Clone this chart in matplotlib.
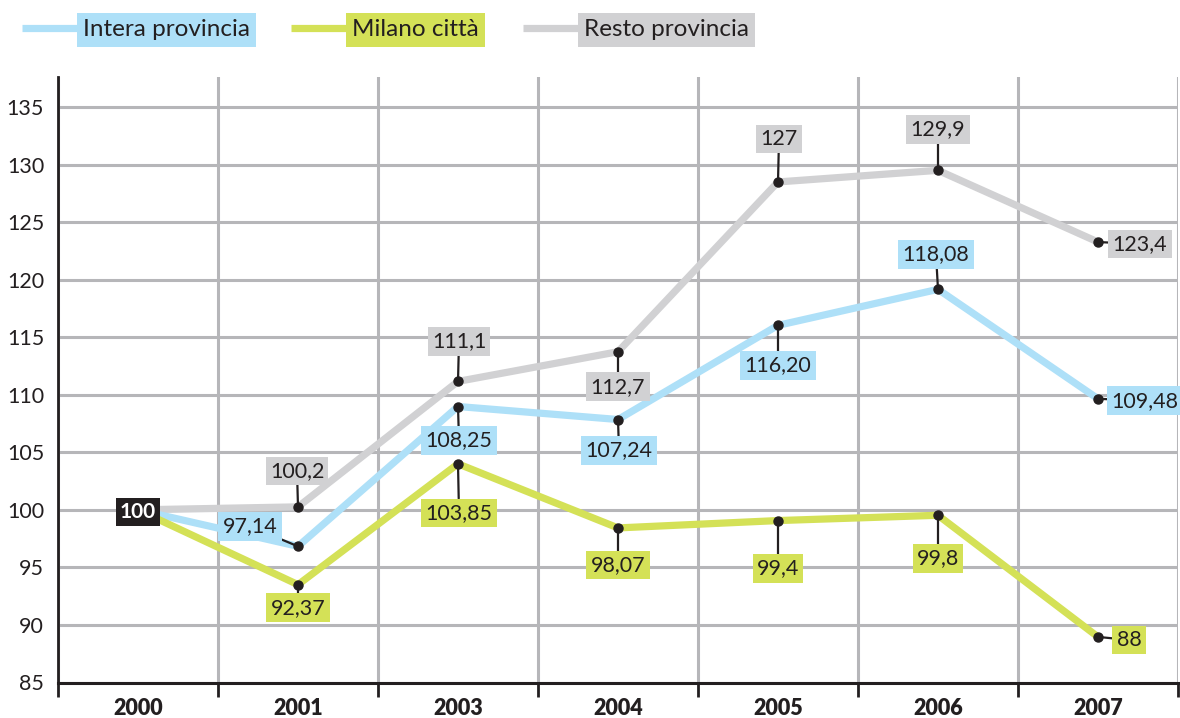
import matplotlib
matplotlib.use('Agg')
import matplotlib.pyplot as plt

# ---------------- data ----------------
years = ['2000', '2001', '2003', '2004', '2005', '2006', '2007']
intera = [100, 96.83, 108.98, 107.85, 116.03, 119.16, 109.65]
milano = [100, 93.5, 104.0, 98.43, 99.07, 99.53, 88.96]
resto = [100, 100.26, 111.16, 113.74, 128.49, 129.5, 123.27]
intera_labels = ['100', '97,14', '108,25', '107,24', '116,20', '118,08', '109,48']
milano_labels = ['100', '92,37', '103,85', '98,07', '99,4', '99,8', '88']
resto_labels = ['100', '100,2', '111,1', '112,7', '127', '129,9', '123,4']
yticks = [85, 90, 95, 100, 105, 110, 115, 120, 125, 130, 135]
series_names = ['Intera provincia', 'Milano città', 'Resto provincia']

# ---------------- style ----------------
BLUE = '#aee0f8'
GREEN = '#d4e157'
GRAY = '#d1d1d3'
DARK = '#231f20'
GRID = '#b6b6b9'
FONT = ['Lato', 'DejaVu Sans']
plt.rcParams['font.family'] = FONT

# label offsets in pixels (dx right, dy down) relative to the data point
intera_off = [None, (-48, -22), (1, 32), (1, 29), (0, 38), (-2, -37), (47, 0)]
milano_off = [None, (0, 21), (1, 47), (0, 35), (0, 46), (0, 41), (31, 1)]
resto_off = [None, (-1, -38), (1, -42), (0, 33), (1, -45), (0, -43), (42, 0)]

W, H = 1180, 718
fig = plt.figure(figsize=(W / 100, H / 100), dpi=100)
top_px, bot_px, left_px, right_px = 77, 682.5, 58, 1178
ax = fig.add_axes([left_px / W, (H - bot_px) / H, (right_px - left_px) / W, (bot_px - top_px) / H])
ax.set_xlim(-0.5, len(years) - 0.5)
ax.set_ylim(85, 135 + (107 - top_px) / 11.5)

x = list(range(len(years)))
ax.set_xticks(x)
ax.set_xticklabels(years, fontsize=15.5, fontweight='heavy', color=DARK)
ax.set_xticks([i - 0.5 for i in range(len(years) + 1)], minor=True)
ax.tick_params(axis='x', which='major', length=0, pad=11)
ax.tick_params(axis='x', which='minor', length=10, width=2, color=DARK, direction='out')
ax.set_yticks(yticks)
ax.set_yticklabels([str(v) for v in yticks], fontsize=15.5, color=DARK)
ax.tick_params(axis='y', length=0, pad=10)

ax.grid(True, axis='y', which='major', color=GRID, lw=2.2, zorder=0)
ax.grid(True, axis='x', which='minor', color=GRID, lw=2.2, zorder=0)
ax.set_axisbelow(True)
for s in ['top', 'right']:
    ax.spines[s].set_visible(False)
ax.spines['left'].set_color(DARK)
ax.spines['left'].set_linewidth(2)
ax.spines['bottom'].set_color(DARK)
ax.spines['bottom'].set_linewidth(2.2)
ax.spines['left'].set_zorder(1)

series = [(resto, resto_labels, resto_off, GRAY),
          (intera, intera_labels, intera_off, BLUE),
          (milano, milano_labels, milano_off, GREEN)]

for k, (vals, labs, offs, col) in enumerate(series):
    ax.plot(x, vals, color=col, lw=5.2, solid_joinstyle='miter', solid_capstyle='butt', zorder=2 + k * 0.1)

for vals, labs, offs, col in series:
    ax.plot(x[1:], vals[1:], 'o', color=DARK, ms=6.5, zorder=4)
    for i in range(1, len(x)):
        dx, dy = offs[i]
        ax.annotate(labs[i], xy=(x[i], vals[i]), xytext=(dx, -dy), textcoords='offset pixels',
                    ha='center', va='center_baseline', fontsize=15.5, color=DARK,
                    bbox=dict(boxstyle='square,pad=0.2', fc=col, ec='none'),
                    arrowprops=dict(arrowstyle='-', color=DARK, lw=1.6, shrinkA=0, shrinkB=0),
                    zorder=5)

ax.text(x[0], intera[0], intera_labels[0], ha='center', va='center_baseline', fontsize=15,
        fontweight='bold', color='white',
        bbox=dict(boxstyle='square,pad=0.2', fc=DARK, ec='none'), zorder=6)

# ---------------- legend (pixel overlay) ----------------
lg = fig.add_axes([0, 0, 1, 1], facecolor='none')
lg.set_xlim(0, W)
lg.set_ylim(H, 0)
lg.axis('off')
legend_x = [22, 291, 523]
for name, col, x0 in zip(series_names, [BLUE, GREEN, GRAY], legend_x):
    lg.plot([x0, x0 + 58], [28, 28], color=col, lw=5.2, solid_capstyle='butt')
    lg.text(x0 + 61, 28, name, ha='left', va='center_baseline', fontsize=17.5, color=DARK,
            bbox=dict(boxstyle='square,pad=0.25', fc=col, ec='none'))

fig.savefig('out.png', dpi=100)
